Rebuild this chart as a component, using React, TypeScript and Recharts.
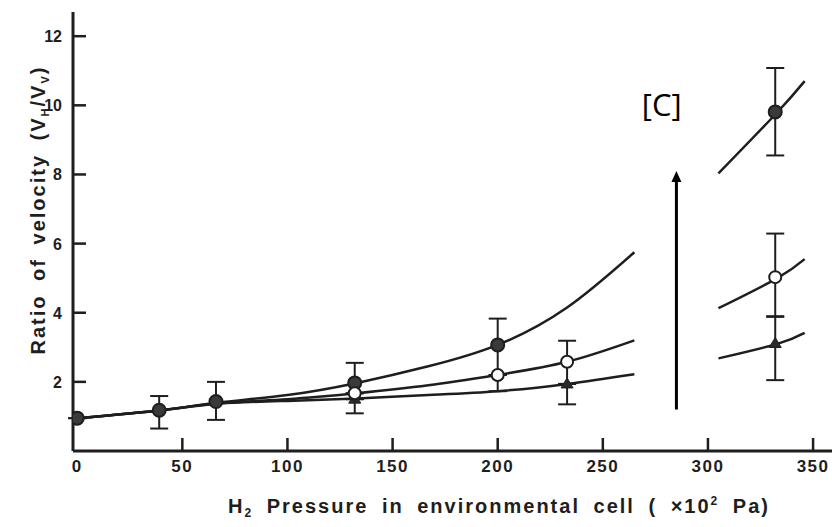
import {
    ComposedChart,
    ErrorBar,
    Label,
    Line,
    ReferenceDot,
    ReferenceLine,
    Scatter,
    XAxis,
    YAxis,
} from "recharts";

// smooth fitted curves (null = white gap)
const curveX = [0, 40, 67, 100, 133, 167, 200, 233, 265, 285, 305, 333, 346];
const curveA = [0.95, 1.18, 1.4, 1.62, 1.97, 2.45, 3.07, 4.15, 5.75, null, 8.03, 9.8, 10.7];
const curveB = [0.95, 1.18, 1.38, 1.5, 1.67, 1.9, 2.2, 2.58, 3.2, null, 4.13, 5.0, 5.55];
const curveC = [0.95, 1.18, 1.37, 1.45, 1.52, 1.62, 1.73, 1.94, 2.22, null, 2.68, 3.1, 3.42];

// measured points: filled circles, open circles, triangles
const filledX = [0, 39, 66, 132, 200, 332];
const filledY = [0.95, 1.18, 1.43, 1.97, 3.07, 9.81];
const filledErr = [[0, 0], [0.53, 0.41], [0.53, 0.57], [0.47, 0.58], [0.87, 0.76], [1.26, 1.27]];

const openX = [132, 200, 233, 332];
const openY = [1.67, 2.2, 2.58, 5.03];
const openErr = [[0, 0], [0.47, 0], [0.64, 0.61], [1.13, 1.26]];

const triX = [132, 233, 332];
const triY = [1.5, 1.94, 3.11];
const triErr = [[0.41, 0], [0.59, 0], [1.06, 0.77]];

const xTicks = [0, 50, 100, 150, 200, 250, 300, 350];
const yTicks = [2, 4, 6, 8, 10, 12];

const toCurve = (ys: (number | null)[]) => curveX.map((x, i) => ({x, y: ys[i]}));
const toPts = (xs: number[], ys: number[], errs: number[][]) =>
    xs.map((x, i) => ({x, y: ys[i], err: errs[i]}));

const ink = "#1e1e1e";
const font = "'Liberation Sans', Arial, sans-serif";

const FilledDot = (p: any) => (
    <circle cx={p.cx} cy={p.cy} r={6.5} fill="#3a3a3a" stroke={ink} strokeWidth={2}/>
);
const OpenDot = (p: any) => (
    <circle cx={p.cx} cy={p.cy} r={6} fill="#fff" stroke={ink} strokeWidth={2}/>
);
const TriDot = (p: any) => (
    <polygon
        points={`${p.cx},${p.cy - 6} ${p.cx + 6},${p.cy + 4} ${p.cx - 6},${p.cy + 4}`}
        fill="#2a2a2a"
        stroke={ink}
        strokeWidth={1}
    />
);

const XTick = (p: any) => (
    <g>
        {p.payload.value > 0 && (
            <line x1={p.x} x2={p.x} y1={p.y} y2={p.y - 13} stroke={ink} strokeWidth={2.5}/>
        )}
        <text x={p.x} y={p.y + 21} textAnchor="middle" fontSize={17} fontWeight="bold"
              fontFamily={font} fill={ink} letterSpacing={1.5}>
            {p.payload.value}
        </text>
    </g>
);

const YTick = (p: any) => (
    <g>
        <line x1={p.x} x2={p.x + 13} y1={p.y} y2={p.y} stroke={ink} strokeWidth={2.5}/>
        <text x={p.x - 11} y={p.y + 6} textAnchor="end" fontSize={16} fontWeight="bold"
              fontFamily={font} fill={ink}>
            {p.payload.value}
        </text>
    </g>
);

const Arrow = (p: any) => (
    <g>
        <line x1={p.x1} y1={p.y1} x2={p.x2} y2={p.y2 + 8} stroke="#000" strokeWidth={3}/>
        <polygon points={`${p.x2},${p.y2} ${p.x2 + 5},${p.y2 + 11} ${p.x2 - 5},${p.y2 + 11}`} fill="#000"/>
    </g>
);

export default function App() {
    return (
        <div style={{position: "absolute", left: 0, top: 0, background: "#fff"}}>
            <ComposedChart width={832} height={527} margin={{top: 12, right: 0, left: 0, bottom: 0}}>
                <XAxis
                    dataKey="x"
                    type="number"
                    domain={[-2, 359]}
                    allowDataOverflow
                    ticks={xTicks}
                    height={76}
                    tickSize={0}
                    tickMargin={0}
                    tick={XTick}
                    axisLine={{stroke: ink, strokeWidth: 3}}
                >
                    <Label
                        content={() => (
                            <text x={499} y={513} textAnchor="middle" fontSize={20} fontWeight="bold"
                                  fontFamily={font} fill={ink} letterSpacing={2} wordSpacing={6}>
                                H<tspan fontSize={12} dy={4}>2</tspan>
                                <tspan dy={-4}> Pressure in environmental cell ( ×10</tspan>
                                <tspan fontSize={12} dy={-8}>2</tspan>
                                <tspan dy={8}> Pa)</tspan>
                            </text>
                        )}
                    />
                </XAxis>
                <YAxis
                    dataKey="y"
                    type="number"
                    domain={[0, 12.7]}
                    allowDataOverflow
                    ticks={yTicks}
                    width={73}
                    tickSize={0}
                    tickMargin={0}
                    tick={YTick}
                    axisLine={{stroke: ink, strokeWidth: 3}}
                >
                    <Label
                        content={() => (
                            <text x={0} y={0} transform="translate(45,210) rotate(-90)" textAnchor="middle"
                                  fontSize={20} fontWeight="bold" fontFamily={font} fill={ink}
                                  letterSpacing={2} wordSpacing={6}>
                                Ratio of velocity (V<tspan fontSize={11} dy={4}>H</tspan>
                                <tspan dy={-4}>/V</tspan>
                                <tspan fontSize={11} dy={4}>V</tspan>
                                <tspan dy={-4}>)</tspan>
                            </text>
                        )}
                    />
                </YAxis>

                <Line data={toCurve(curveA)} dataKey="y" type="natural" stroke={ink} strokeWidth={2.5}
                      dot={false} activeDot={false} connectNulls={false} isAnimationActive={false}/>
                <Line data={toCurve(curveB)} dataKey="y" type="natural" stroke={ink} strokeWidth={2.5}
                      dot={false} activeDot={false} connectNulls={false} isAnimationActive={false}/>
                <Line data={toCurve(curveC)} dataKey="y" type="natural" stroke={ink} strokeWidth={2.5}
                      dot={false} activeDot={false} connectNulls={false} isAnimationActive={false}/>

                <Scatter data={toPts(filledX, filledY, filledErr)} dataKey="y" shape={FilledDot}
                         isAnimationActive={false}>
                    <ErrorBar dataKey="err" direction="y" width={9} stroke={ink} strokeWidth={2}/>
                </Scatter>
                <Scatter data={toPts(triX, triY, triErr)} dataKey="y" shape={TriDot} isAnimationActive={false}>
                    <ErrorBar dataKey="err" direction="y" width={9} stroke={ink} strokeWidth={2}/>
                </Scatter>
                <Scatter data={toPts(openX, openY, openErr)} dataKey="y" shape={OpenDot} isAnimationActive={false}>
                    <ErrorBar dataKey="err" direction="y" width={9} stroke={ink} strokeWidth={2}/>
                </Scatter>

                <ReferenceLine segment={[{x: 285, y: 1.2}, {x: 285, y: 8.1}]} shape={Arrow}/>
                <ReferenceDot
                    x={278}
                    y={10}
                    r={0}
                    shape={(p: any) => (
                        <text x={p.cx} y={p.cy + 11} textAnchor="middle" fontSize={31}
                              fontFamily="'Open Sans', sans-serif" fill="#000">
                            [C]
                        </text>
                    )}
                />
            </ComposedChart>
        </div>
    );
}
